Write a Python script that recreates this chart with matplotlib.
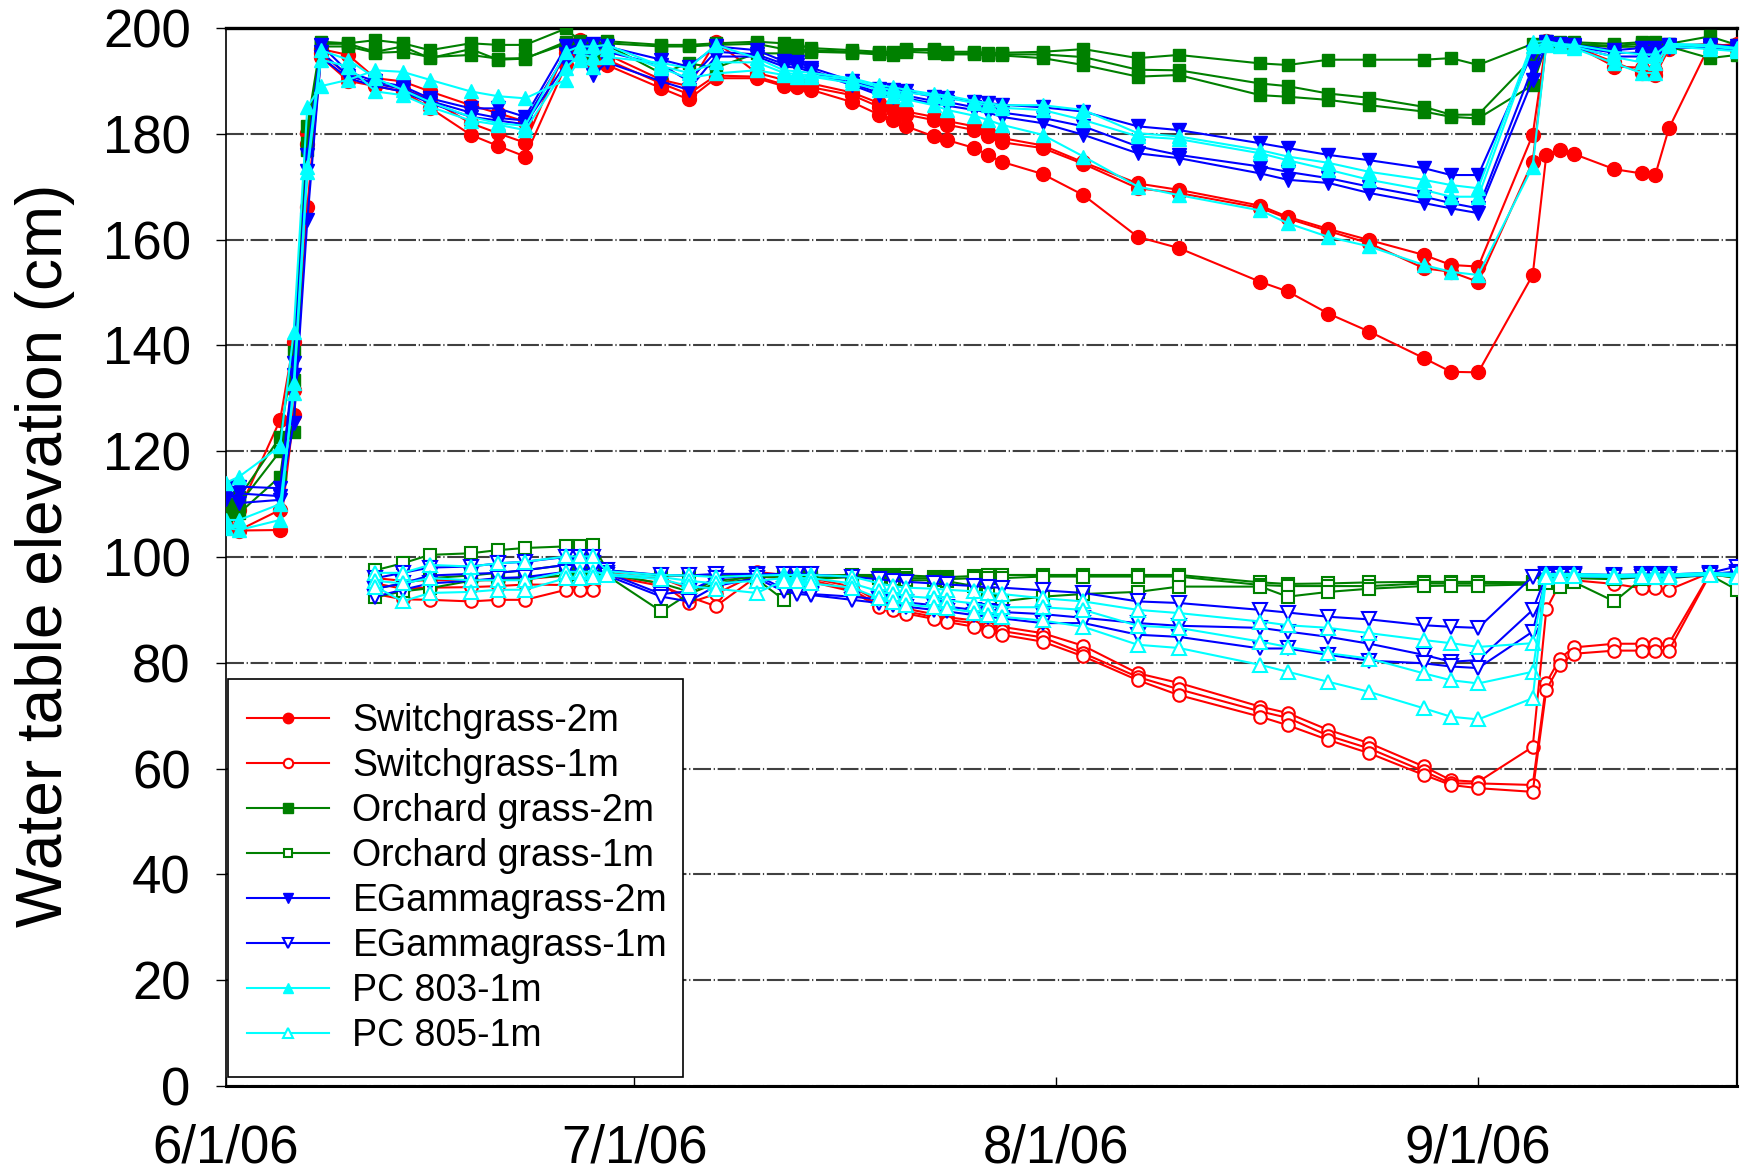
import datetime as dt
import matplotlib
matplotlib.use("Agg")
import matplotlib.pyplot as plt
import matplotlib.dates as mdates
from matplotlib.patches import Rectangle

plt.rcParams['font.family'] = ['Liberation Sans', 'DejaVu Sans']

# ---------------------------------------------------------------- dates
dates_2m = ["2006-06-01", "2006-06-02", "2006-06-05", "2006-06-06", "2006-06-07",
            "2006-06-08", "2006-06-10", "2006-06-12", "2006-06-14", "2006-06-16",
            "2006-06-19", "2006-06-21", "2006-06-23", "2006-06-26", "2006-06-27",
            "2006-06-28", "2006-06-29",
            "2006-07-03", "2006-07-05", "2006-07-07", "2006-07-10", "2006-07-12",
            "2006-07-13", "2006-07-14", "2006-07-17", "2006-07-19", "2006-07-20",
            "2006-07-21", "2006-07-23", "2006-07-24", "2006-07-26", "2006-07-27",
            "2006-07-28", "2006-07-31",
            "2006-08-03", "2006-08-07", "2006-08-10", "2006-08-16", "2006-08-18",
            "2006-08-21", "2006-08-24", "2006-08-28", "2006-08-30",
            "2006-09-01", "2006-09-05", "2006-09-06", "2006-09-07", "2006-09-08",
            "2006-09-11", "2006-09-13", "2006-09-14", "2006-09-15", "2006-09-18",
            "2006-09-20"]
dates_1m = dates_2m[7:]

# ---------------------------------------------------------------- 2 m wells (cm)
sg2_r1 = [109.0, 108.9, 125.9, 140.7, 180.1, 196.0, 194.9, 190.5, 189.9, 188.0, 185.4, 183.9, 182.3, 195.2, 197.7, 194.0, 195.0,
          190.2, 189.0, 197.4, 191.5, 190.2, 190.0, 189.5, 187.8, 185.8, 185.0, 184.2, 183.2, 182.4, 181.4, 180.4, 179.2, 177.8,
          174.6, 170.6, 169.4, 166.4, 164.3, 162.0, 159.9, 157.1, 155.2,
          154.9, 179.8, 197.5, 197.0, 196.8, 192.7, 192.5, 192.0, 196.5, 197.0, 196.5]
sg2_r2 = [106.0, 105.1, 108.9, 131.6, 178.0, 195.3, 191.0, 189.5, 188.5, 186.5, 182.0, 180.1, 178.3, 196.0, 196.0, 195.0, 194.0,
          189.5, 187.5, 191.0, 190.8, 189.3, 189.2, 188.8, 187.3, 185.1, 184.5, 183.6, 182.6, 181.7, 180.7, 179.5, 178.4, 177.3,
          174.3, 169.7, 168.8, 166.0, 164.0, 161.6, 159.3, 154.6, 153.9,
          152.0, 174.7, 197.0, 196.8, 196.5, 193.5, 191.5, 191.1, 196.0, 196.5, 197.0]
sg2_r3 = [110.0, 105.0, 105.1, 126.8, 166.2, 194.5, 190.0, 189.0, 188.0, 184.9, 179.8, 177.7, 175.7, 193.0, 195.0, 193.0, 193.0,
          188.6, 186.5, 190.5, 190.5, 189.0, 188.8, 188.3, 186.0, 183.6, 182.6, 181.4, 179.5, 178.8, 177.3, 176.0, 174.7, 172.4,
          168.4, 160.5, 158.4, 152.0, 150.2, 146.0, 142.6, 137.6, 135.0,
          134.9, 153.3, 176.0, 176.9, 176.2, 173.3, 172.5, 172.2, 181.0, 196.8, 196.0]

og2_r1 = [109.0, 111.3, 122.7, 138.8, 181.5, 197.4, 197.1, 197.7, 197.1, 195.8, 197.1, 196.8, 196.8, 199.9, 197.5, 196.8, 197.5,
          196.8, 196.8, 197.1, 197.4, 197.1, 196.8, 196.2, 195.8, 195.5, 195.5, 196.0, 196.0, 195.5, 195.5, 195.3, 195.3, 195.5,
          196.0, 194.3, 194.9, 193.3, 193.0, 194.0, 194.0, 194.0, 194.3,
          193.0, 197.0, 197.5, 197.3, 197.3, 197.0, 197.3, 197.3, 197.0, 198.4, 196.8]
og2_r2 = [110.0, 108.3, 115.2, 133.5, 178.3, 197.0, 197.0, 195.5, 196.5, 194.3, 196.0, 194.0, 194.2, 197.4, 197.0, 195.3, 197.1,
          196.5, 196.5, 196.8, 197.0, 196.0, 195.8, 195.8, 195.5, 195.2, 195.2, 195.8, 195.8, 195.2, 195.2, 195.0, 195.0, 195.0,
          194.5, 192.1, 192.0, 189.5, 189.0, 187.6, 186.8, 185.1, 183.6,
          183.6, 194.3, 197.0, 197.0, 197.0, 196.6, 197.0, 197.0, 196.8, 196.5, 196.0]
og2_r3 = [108.0, 110.0, 120.0, 123.7, 177.0, 196.5, 196.5, 195.3, 195.5, 194.5, 194.9, 194.2, 194.3, 197.0, 196.6, 197.0, 196.8,
          191.4, 193.3, 192.5, 195.2, 195.2, 195.5, 195.5, 195.3, 195.0, 194.8, 195.5, 195.3, 195.0, 195.0, 194.8, 194.8, 194.3,
          193.0, 190.8, 191.1, 187.3, 187.0, 186.4, 185.4, 184.2, 183.2,
          182.9, 189.2, 196.8, 196.8, 196.8, 196.4, 196.5, 196.6, 196.5, 194.3, 194.9]

eg2_r1 = [112.0, 113.3, 113.0, 136.6, 176.0, 196.8, 191.7, 189.9, 189.0, 186.7, 184.8, 184.8, 183.2, 196.5, 196.5, 196.9, 196.5,
          194.0, 192.7, 196.5, 195.8, 193.7, 193.5, 192.5, 190.0, 188.5, 188.3, 188.0, 187.0, 186.8, 186.0, 185.8, 185.5, 185.0,
          184.2, 181.4, 180.7, 178.2, 177.3, 176.0, 175.0, 173.5, 172.2,
          172.2, 195.5, 197.3, 197.0, 196.8, 195.8, 196.2, 196.2, 196.8, 196.8, 196.5]
eg2_r2 = [111.0, 112.0, 111.5, 134.4, 173.0, 195.5, 191.0, 189.5, 188.5, 186.2, 184.0, 183.0, 182.5, 195.0, 195.5, 195.0, 195.5,
          193.0, 190.0, 195.5, 195.0, 193.2, 193.0, 192.0, 189.5, 187.7, 187.5, 187.2, 186.2, 186.0, 185.0, 184.5, 184.0, 183.0,
          181.4, 177.6, 176.0, 173.8, 172.8, 171.6, 170.0, 168.1, 166.9,
          165.9, 192.5, 197.0, 196.8, 196.5, 195.3, 195.3, 195.3, 196.5, 196.5, 196.2]
eg2_r3 = [113.0, 110.2, 110.8, 125.3, 163.7, 194.5, 190.5, 189.0, 188.0, 185.8, 183.2, 182.5, 181.8, 193.3, 194.3, 191.2, 193.5,
          189.9, 188.3, 194.6, 194.6, 192.7, 192.5, 191.7, 189.2, 187.3, 187.0, 186.7, 185.7, 185.3, 184.5, 184.0, 183.2, 182.0,
          179.8, 176.3, 175.4, 172.5, 171.3, 170.7, 168.8, 166.9, 165.9,
          165.0, 190.2, 196.8, 196.5, 196.3, 194.6, 194.6, 194.6, 196.3, 196.2, 195.8]

pc803_r1 = [114.0, 115.2, 120.9, 142.6, 185.1, 189.0, 190.2, 192.0, 191.7, 190.2, 188.0, 187.1, 186.7, 190.2, 194.0, 192.6, 194.5,
            193.4, 192.4, 196.8, 194.3, 192.0, 191.8, 191.5, 190.5, 189.2, 188.8, 188.3, 187.5, 187.2, 186.2, 185.8, 185.4, 185.4,
            184.5, 180.1, 179.5, 176.9, 175.7, 174.5, 172.8, 171.3, 170.3,
            169.7, 197.4, 197.5, 197.0, 196.8, 195.5, 195.0, 195.0, 197.0, 196.8, 196.2]
pc803_r2 = [105.5, 105.1, 107.0, 132.9, 173.8, 195.8, 194.0, 190.5, 188.3, 186.0, 183.2, 182.0, 181.5, 195.5, 196.5, 196.5, 196.8,
            192.8, 191.5, 193.5, 193.5, 191.5, 191.3, 191.0, 190.2, 188.8, 188.2, 187.8, 187.2, 186.8, 185.8, 185.4, 184.9, 184.5,
            182.6, 179.5, 179.0, 176.3, 175.0, 173.2, 171.3, 169.4, 168.1,
            168.1, 196.5, 197.2, 196.8, 196.5, 194.5, 193.5, 193.3, 196.8, 196.5, 196.0]
pc803_r3 = [107.0, 107.0, 110.0, 131.0, 172.8, 194.0, 192.7, 188.0, 187.3, 185.1, 182.5, 181.7, 180.7, 192.5, 195.0, 194.5, 196.0,
            192.4, 190.5, 191.4, 192.0, 191.1, 190.8, 190.8, 189.6, 188.3, 187.2, 186.5, 185.4, 184.5, 183.4, 182.6, 181.7, 179.8,
            175.7, 170.0, 168.4, 165.5, 163.1, 160.5, 158.7, 155.2, 153.9,
            153.3, 173.8, 196.8, 196.5, 196.2, 193.3, 191.5, 191.5, 196.5, 196.0, 195.6]

# ---------------------------------------------------------------- 1 m wells (cm)
sg1_r1 = [96.0, 95.5, 95.6, 95.6, 95.6, 95.8, 96.5, 96.5, 96.5, 97.0,
          96.0, 94.0, 94.5, 97.2, 96.6, 96.4, 96.0, 94.4, 91.5, 90.8, 90.2, 89.2, 88.6, 88.0, 87.3, 86.8, 85.6,
          83.2, 78.0, 76.2, 71.7, 70.5, 67.3, 64.8, 60.4, 57.8,
          57.5, 64.1, 90.1, 95.0, 95.6, 94.9, 94.1, 94.1, 93.8, 97.0, 96.6]
sg1_r2 = [95.0, 94.0, 94.2, 94.3, 94.5, 94.8, 94.7, 94.7, 94.7, 96.8,
          95.0, 91.3, 93.0, 96.8, 96.3, 96.0, 95.6, 93.8, 90.9, 90.3, 89.7, 88.7, 88.1, 87.5, 86.6, 86.0, 84.8,
          81.8, 77.3, 75.0, 70.8, 69.6, 66.2, 63.8, 59.5, 57.2,
          57.2, 56.9, 76.2, 80.8, 82.9, 83.6, 83.6, 83.6, 83.6, 96.8, 96.5]
sg1_r3 = [93.0, 92.0, 91.9, 91.6, 91.9, 91.9, 93.8, 93.8, 93.8, 96.5,
          94.5, 92.5, 90.7, 96.3, 96.0, 95.8, 95.3, 93.5, 90.5, 90.0, 89.3, 88.3, 87.7, 86.8, 86.0, 85.3, 84.0,
          81.2, 76.7, 73.9, 69.8, 68.2, 65.4, 62.9, 58.8, 56.9,
          56.3, 55.6, 74.9, 79.6, 81.7, 82.3, 82.3, 82.3, 82.3, 96.6, 96.2]

og1_r1 = [97.5, 98.8, 100.4, 100.7, 101.3, 101.7, 102.0, 102.0, 102.3, 97.5,
          96.5, 96.5, 96.5, 96.5, 96.5, 96.5, 96.5, 96.6, 96.6, 96.5, 96.5, 96.3, 96.2, 96.4, 96.5, 96.6, 96.6,
          96.6, 96.6, 96.6, 95.2, 94.9, 95.0, 95.2, 95.3, 95.3,
          95.3, 95.2, 96.5, 96.5, 96.5, 96.3, 96.5, 96.5, 96.5, 97.0, 96.5]
og1_r2 = [94.0, 95.0, 96.0, 96.5, 97.0, 97.5, 98.5, 99.0, 99.5, 96.8,
          95.0, 93.5, 95.5, 96.2, 96.3, 96.2, 96.0, 96.4, 96.3, 96.2, 96.0, 96.0, 95.8, 96.0, 96.0, 96.0, 96.3,
          96.3, 96.3, 96.3, 94.7, 94.5, 94.5, 94.5, 95.0, 95.0,
          95.0, 95.0, 95.5, 96.0, 96.0, 95.8, 96.2, 96.2, 96.2, 96.8, 96.0]
og1_r3 = [92.4, 93.5, 94.1, 95.5, 95.8, 96.0, 96.5, 96.8, 97.0, 96.5,
          89.7, 93.0, 95.0, 95.8, 91.9, 95.5, 95.8, 96.2, 96.0, 95.8, 95.6, 95.6, 95.4, 94.5, 93.0, 91.6, 92.5,
          93.0, 93.4, 94.4, 94.4, 92.5, 93.4, 94.0, 94.5, 94.6,
          94.6, 94.8, 95.0, 94.4, 95.3, 91.6, 95.8, 96.0, 96.0, 96.6, 93.8]

eg1_r1 = [96.0, 97.0, 98.0, 98.2, 98.8, 99.1, 100.0, 100.0, 100.0, 97.5,
          96.6, 96.5, 96.8, 96.8, 96.8, 96.8, 96.7, 96.2, 95.8, 95.5, 95.3, 95.0, 94.8, 94.5, 94.3, 94.2, 93.7,
          93.2, 91.6, 91.3, 90.0, 89.5, 88.7, 88.2, 87.1, 86.8,
          86.6, 96.3, 96.8, 96.8, 96.8, 96.6, 96.7, 96.7, 96.7, 97.0, 98.2]
eg1_r2 = [94.0, 95.0, 96.5, 96.8, 97.0, 97.5, 98.5, 98.6, 98.8, 97.0,
          93.0, 93.5, 96.0, 96.5, 94.0, 93.5, 93.0, 92.5, 92.0, 91.7, 91.4, 90.9, 90.6, 90.0, 89.8, 89.6, 89.2,
          88.5, 87.5, 87.0, 86.6, 85.9, 84.9, 83.6, 81.5, 80.2,
          80.5, 90.0, 96.5, 96.6, 96.6, 96.4, 96.5, 96.5, 96.5, 96.8, 97.2]
eg1_r3 = [92.5, 93.8, 95.0, 95.5, 96.0, 96.2, 97.2, 97.5, 97.8, 96.5,
          92.5, 91.6, 94.5, 96.0, 93.5, 93.0, 92.8, 91.9, 91.3, 91.0, 90.6, 90.0, 89.7, 89.0, 88.7, 88.4, 87.5,
          87.5, 85.3, 84.9, 82.7, 82.7, 81.5, 80.4, 79.9, 79.3,
          79.0, 85.9, 96.3, 96.4, 96.4, 96.2, 96.2, 96.2, 96.2, 96.6, 96.8]

pc805_r1 = [97.0, 97.0, 98.5, 98.2, 98.8, 99.1, 100.1, 100.1, 100.1, 97.3,
            96.6, 96.5, 96.2, 96.5, 96.6, 96.6, 96.6, 96.3, 95.0, 94.5, 94.2, 94.0, 93.8, 93.5, 93.2, 93.0, 92.2,
            91.6, 90.0, 89.4, 87.8, 87.1, 86.6, 85.6, 84.3, 83.7,
            83.0, 83.7, 96.8, 96.8, 96.8, 96.6, 96.7, 96.7, 96.7, 97.0, 96.8]
pc805_r2 = [95.5, 95.0, 96.0, 95.6, 95.6, 95.6, 97.2, 97.2, 97.2, 96.8,
            96.2, 95.5, 95.0, 95.5, 96.0, 96.0, 96.0, 95.0, 93.5, 93.0, 92.6, 92.2, 91.8, 91.2, 90.8, 90.5, 90.5,
            90.0, 87.0, 86.6, 84.0, 83.0, 81.8, 80.8, 78.0, 76.7,
            76.1, 78.3, 96.5, 96.6, 96.6, 96.4, 96.5, 96.5, 96.5, 96.8, 96.5]
pc805_r3 = [94.4, 91.6, 93.2, 93.4, 93.8, 93.8, 96.0, 96.0, 96.2, 96.5,
            95.8, 94.5, 94.0, 93.2, 95.5, 95.5, 95.0, 94.2, 92.2, 91.5, 91.0, 90.5, 90.3, 89.5, 89.0, 88.7, 88.0,
            86.8, 83.4, 82.8, 79.6, 78.3, 76.4, 74.5, 71.4, 69.8,
            69.3, 73.3, 96.3, 96.4, 96.4, 96.2, 96.3, 96.3, 96.3, 96.6, 96.3]

# ---------------------------------------------------------------- axis labels
x_tick_dates = ["2006-06-01", "2006-07-01", "2006-08-01", "2006-09-01"]
x_tick_labels = ["6/1/06", "7/1/06", "8/1/06", "9/1/06"]
y_ticks = [0, 20, 40, 60, 80, 100, 120, 140, 160, 180, 200]

# (label, replicates, dates, color, marker, filled, size)
series = [
    ("Switchgrass-2m",    [sg2_r1, sg2_r2, sg2_r3],       dates_2m, "#ff0000", "o", True,  10.0),
    ("Switchgrass-1m",    [sg1_r1, sg1_r2, sg1_r3],       dates_1m, "#ff0000", "o", False, 9.0),
    ("Orchard grass-2m",  [og2_r1, og2_r2, og2_r3],       dates_2m, "#008000", "s", True,  9.0),
    ("Orchard grass-1m",  [og1_r1, og1_r2, og1_r3],       dates_1m, "#008000", "s", False, 8.5),
    ("EGammagrass-2m",    [eg2_r1, eg2_r2, eg2_r3],       dates_2m, "#0000ff", "v", True,  10.5),
    ("EGammagrass-1m",    [eg1_r1, eg1_r2, eg1_r3],       dates_1m, "#0000ff", "v", False, 9.5),
    ("PC 803-1m",         [pc803_r1, pc803_r2, pc803_r3], dates_2m, "#00ffff", "^", True,  10.5),
    ("PC 805-1m",         [pc805_r1, pc805_r2, pc805_r3], dates_1m, "#00ffff", "^", False, 9.5),
]


def to_dt(s):
    return dt.datetime.strptime(s, "%Y-%m-%d")


fig = plt.figure(figsize=(17.52, 11.70), dpi=100)
ax = fig.add_axes([0.1288, 0.0718, 0.8626, 0.9043])

handles = []
for label, reps, dts, color, marker, filled, ms in series:
    xs = [to_dt(d) for d in dts]
    for i, ys in enumerate(reps):
        ln, = ax.plot(xs, ys, color=color, lw=1.5, marker=marker, ms=ms,
                      markerfacecolor=color if filled else "white",
                      markeredgecolor=color, markeredgewidth=1.0 if filled else 1.5,
                      zorder=3)
        if i == 0:
            handles.append((ln, label))

ax.set_xlim(to_dt("2006-06-01"), to_dt("2006-09-20"))
ax.set_ylim(0, 200)

ax.set_xticks([mdates.date2num(to_dt(d)) for d in x_tick_dates])
ax.set_xticklabels(x_tick_labels)
ax.set_yticks(y_ticks)
ax.set_yticklabels([str(v) for v in y_ticks])

ax.tick_params(axis="x", direction="in", length=6.5, width=1.0, labelsize=38, pad=27)
ax.tick_params(axis="y", direction="out", length=7.2, width=1.0, labelsize=38, pad=18)

# dash-dot horizontal gridlines
ax.set_axisbelow(True)
ax.yaxis.grid(True, color="#404040", lw=1.5, linestyle=(0, (8.6, 1.3, 0.6, 1.3)))

for side, w in (("top", 2.4), ("bottom", 2.2), ("left", 1.2), ("right", 1.6)):
    ax.spines[side].set_linewidth(w)
    ax.spines[side].set_color("black")

ax.set_ylabel("Water table elevation (cm)", fontsize=46, va="center")
ax.yaxis.set_label_coords(-0.1196, 0.502)

# legend box
ax.add_patch(Rectangle((0.0015, 0.0085), 0.3009, 0.3762, transform=ax.transAxes,
                       facecolor="white", edgecolor="black", lw=1.2, zorder=4))
leg = ax.legend([h for h, _ in handles], [l for _, l in handles],
                loc="upper left", bbox_to_anchor=(0.0139, 0.362),
                frameon=False, fontsize=27, handlelength=2.2, handletextpad=0.62,
                labelspacing=0.24, borderpad=0, borderaxespad=0, markerscale=0.75)
leg.set_zorder(5)

fig.savefig("out.png", dpi=100)
